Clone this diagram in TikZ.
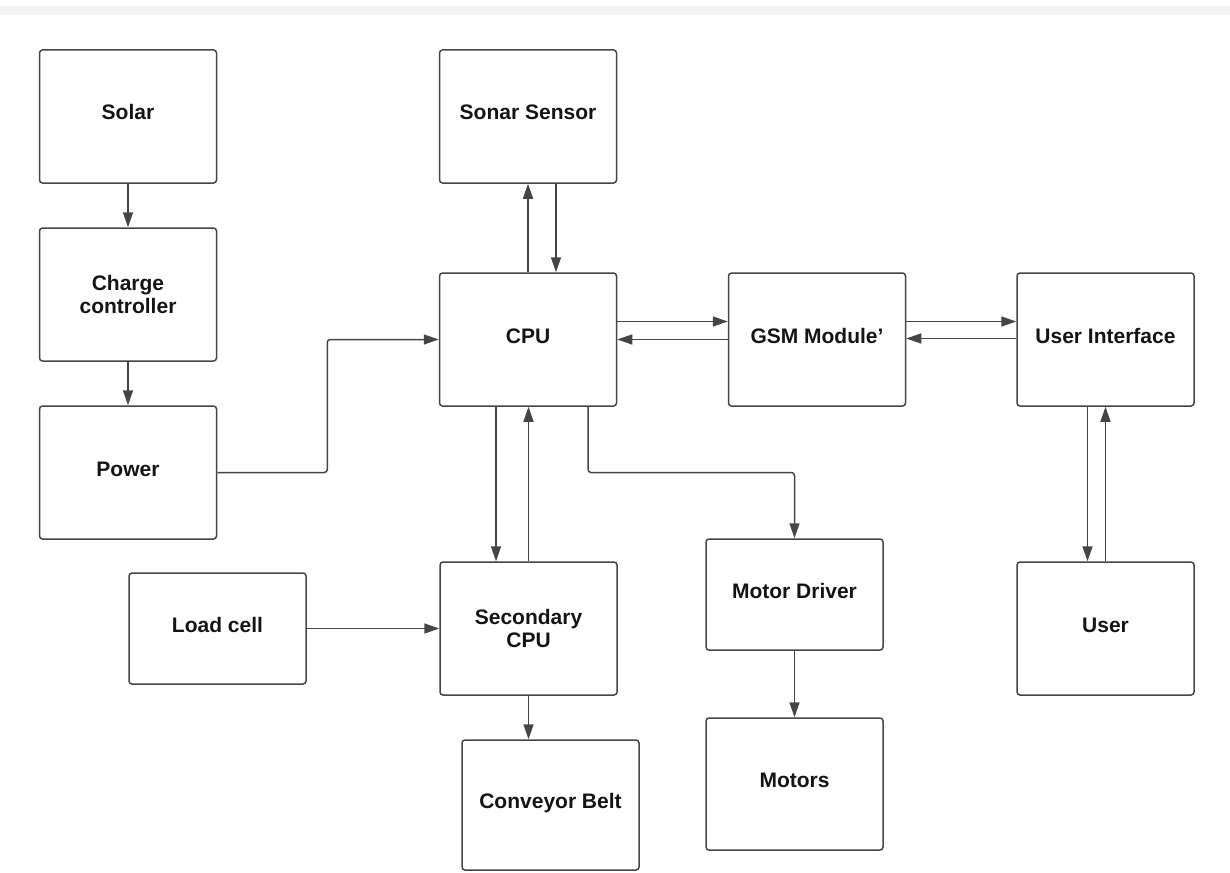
\documentclass[tikz,border=0pt]{standalone}
\usepackage{fontspec}
\setmainfont{Liberation Sans}
\usetikzlibrary{arrows.meta}
\definecolor{ln}{HTML}{454545}
\definecolor{band}{HTML}{F4F4F4}
\begin{document}
\begin{tikzpicture}[x=1pt,y=-1pt,
  box/.style={draw=ln, line width=1.5pt, rounded corners=3pt, minimum width=177pt,
    minimum height=133pt, inner sep=2pt, align=center, text=black!92,
    font=\bfseries\fontsize{21}{23}\selectfont},
  one/.style={text height=15pt, text depth=8pt},
  arr/.style={draw=ln, line width=1.5pt, -{Triangle[length=15pt,width=10pt]}}
]
\useasboundingbox (0,0) rectangle (1230,872);
\fill[band] (0,6) rectangle (1230,15);

\node[box,one] (solar) at (128,116.5) {Solar};
\node[box] (charge) at (128,294.5) {Charge\\controller};
\node[box,one] (power) at (128,472.5) {Power};
\node[box,one] (sonar) at (528,116.5) {Sonar Sensor};
\node[box,one] (cpu) at (528,339.5) {CPU};
\node[box,one] (gsm) at (817,339.5) {GSM Module'};
\node[box,one] (ui) at (1105.5,339.5) {User Interface};
\node[box,one,minimum height=111pt] (load) at (217.5,628.5) {Load cell};
\node[box] (sec) at (528.5,628.5) {Secondary\\CPU};
\node[box,one,minimum height=111pt] (md) at (794.5,594.5) {Motor Driver};
\node[box,one,minimum height=130pt] (conv) at (550.5,805) {Conveyor Belt};
\node[box,one,minimum height=132pt] (motors) at (794.5,784) {Motors};
\node[box,one] (user) at (1105.5,628.5) {User};

\draw[arr] (solar) -- (charge);
\draw[arr] (charge) -- (power);
\draw[arr, rounded corners=3pt] (power.east) -- ++(110,0) |- (cpu.west);
\draw[arr] (cpu.north) -- (sonar.south);
\draw[arr] ([xshift=28pt]sonar.south) -- ([xshift=28pt]cpu.north);
\draw[arr] ([yshift=18pt]cpu.east) -- ([yshift=18pt]gsm.west);
\draw[arr] (gsm.west) -- (cpu.east);
\draw[arr] ([yshift=18pt]gsm.east) -- ([yshift=18pt]ui.west);
\draw[arr] ([yshift=1pt]ui.west) -- ([yshift=1pt]gsm.east);
\draw[arr] ([xshift=-18pt]ui.south) -- ([xshift=-18pt]user.north);
\draw[arr] (user.north) -- (ui.south);
\draw[arr] ([xshift=-32pt]cpu.south) -- ([xshift=-32pt]cpu.south |- sec.north);
\draw[arr] (sec.north) -- (sec.north |- cpu.south);
\draw[arr, rounded corners=3pt] ([xshift=60pt]cpu.south) |- (md.north |- power.east) -- (md.north);
\draw[arr] (load) -- (sec);
\draw[arr] (sec.south) -- (sec.south |- conv.north);
\draw[arr] (md) -- (motors);
\end{tikzpicture}
\end{document}
